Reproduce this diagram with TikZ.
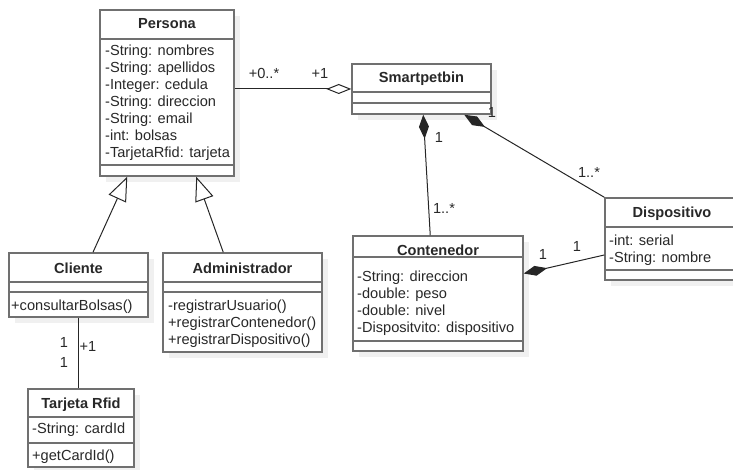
\documentclass[tikz,border=0pt]{standalone}
\usepackage{fontspec}
\setmainfont{Liberation Sans}
\usetikzlibrary{arrows.meta,fit}

\definecolor{boxc}{RGB}{112,112,112}
\definecolor{inkc}{RGB}{40,40,40}
\definecolor{shadc}{RGB}{240,240,240}

\tikzset{
  classbox/.style={draw=boxc, line width=1.5pt, fill=white, inner sep=0pt},
  sepline/.style={draw=boxc, line width=1.5pt},
  classname/.style={font=\fontsize{14.6}{17}\selectfont\bfseries, text=inkc, anchor=base, inner sep=0pt},
  % multi-line member lists are anchored at the baseline of their last line
  members/.style={font=\fontsize{14.6}{17}\selectfont, text=inkc, anchor=base west, align=left, inner sep=0pt},
  mult/.style={font=\fontsize{14.6}{17}\selectfont, text=inkc, inner sep=0pt},
  link/.style={draw=black!85, line width=1pt},
  aggr/.style={link, -{Diamond[open, length=25pt, width=10pt]}},
  comp/.style={link, -{Diamond[length=24pt, width=10pt]}},
  inherit/.style={link, -{Triangle[open, length=24pt, width=19pt]}},
}

% #1 name, #2 left, #3 top, #4 right, #5 bottom, #6 under the name, #7 under the attributes
\newcommand\umlclass[7]{%
  \fill[shadc] (#2+6,#3+6) rectangle (#4+6,#5+6);
  \node[classbox, fit={(#2,#3) (#4,#5)}] (#1) {};
  \draw[sepline] (#2,#6) -- (#4,#6) (#2,#7) -- (#4,#7);
}

\begin{document}
\begin{tikzpicture}[x=1pt, y=-1pt]
  \useasboundingbox (0,0) rectangle (733,470);
  \clip (0,0) rectangle (733,470);

  % classes
  \umlclass{persona}{100}{10}{234}{176}{39}{165}
  \umlclass{smart}{352}{64}{491}{114}{92}{103}
  \umlclass{cliente}{9}{253}{148}{317}{282}{292}
  \umlclass{admin}{163}{253}{322}{352}{282}{292}
  \umlclass{tarjeta}{28}{389}{134}{467}{417}{443}
  \umlclass{contenedor}{353}{236}{523}{351}{257}{341}
  \umlclass{dispositivo}{605}{198}{739}{280}{227}{270}

  % class names
  \node[classname] at (167,29) {Persona};
  \node[classname] at (421.5,83) {Smartpetbin};
  \node[classname] at (78.5,273) {Cliente};
  \node[classname] at (242.5,273) {Administrador};
  \node[classname] at (81,408) {Tarjeta Rfid};
  \node[classname] at (438,255) {Contenedor};
  \node[classname] at (672,218) {Dispositivo};

  % attributes and operations
  \node[members] at (105,158) {-String: nombres\\-String: apellidos\\-Integer: cedula\\-String: direccion\\-String: email\\-int: bolsas\\-TarjetaRfid: tarjeta};
  \node[members] at (11,310) {+consultarBolsas()};
  \node[members] at (168,344) {-registrarUsuario()\\+registrarContenedor()\\+registrarDispositivo()};
  \node[members] at (32,433) {-String: cardId};
  \node[members] at (32,460) {+getCardId()};
  \node[members, font=\fontsize{14.6}{16.7}\selectfont] at (357,332) {-String: direccion\\-double: peso\\-double: nivel\\-Dispositvito: dispositivo};
  \node[members] at (609,262) {-int: serial\\-String: nombre};

  % generalisations
  \draw[inherit] ([xshift=14.5pt]cliente.north) -- ([xshift=28pt]persona.south west);
  \draw[inherit] ([xshift=61pt]admin.north west) -- ([xshift=97pt]persona.south west);

  % aggregation Persona - Smartpetbin
  \draw[aggr] (persona.east |- smart.west) -- (smart.west);
  \node[mult] at (264,73) {+0..*};
  \node[mult] at (320,73) {+1};

  % compositions
  \draw[comp] ([xshift=78pt]contenedor.north west) -- ([xshift=72pt]smart.south west);
  \node[mult] at (439,137) {1};
  \node[mult] at (444,208) {1..*};

  \draw[comp] (dispositivo.north west) -- ([xshift=113pt]smart.south west);
  \node[mult] at (492,112) {1};
  \node[mult] at (589,172) {1..*};

  \draw[comp] ([yshift=-16pt]dispositivo.west) -- ([yshift=20pt]contenedor.east);
  \node[mult] at (543,254) {1};
  \node[mult] at (577,246) {1};

  % association Cliente - Tarjeta Rfid
  \draw[link] (cliente.south) -- (cliente.south |- tarjeta.north);
  \node[mult] at (64,342) {1};
  \node[mult] at (88,346) {+1};
  \node[mult] at (64,362) {1};
\end{tikzpicture}
\end{document}
